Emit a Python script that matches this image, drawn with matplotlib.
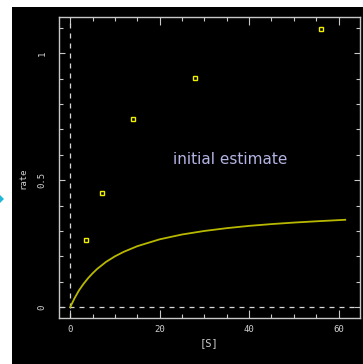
import numpy as np
import matplotlib
matplotlib.use("Agg")
import matplotlib.pyplot as plt
from matplotlib.patches import Rectangle, Polygon

# measured points ([S], rate)
s_obs = [3.5, 7, 14, 28, 56]
rate_obs = [0.264, 0.451, 0.742, 0.901, 1.095]

# initial estimate curve
s_curve = [0, 1, 2, 3, 4, 5, 6, 8, 10, 12, 15, 20, 25, 30, 35, 40, 45, 50, 55, 61.5]
rate_curve = [0, 0.036, 0.067, 0.092, 0.114, 0.133, 0.150, 0.178, 0.200, 0.218,
              0.240, 0.267, 0.286, 0.300, 0.311, 0.320, 0.327, 0.333, 0.338, 0.344]

xticks = [0, 20, 40, 60]
yticks = [0, 0.5, 1]
yticklabels = ["0", "0.5", "1"]

W, H = 363, 364
fig = plt.figure(figsize=(W / 100, H / 100), dpi=100, facecolor="white")
fig.patches.append(Rectangle((12 / W, 0), 1 - 12 / W, (H - 7) / H,
                             transform=fig.transFigure, facecolor="black",
                             edgecolor="none", zorder=-10))
# small cyan arrow at the left edge
fig.patches.append(Polygon([(0 / W, 1 - 195 / H), (4 / W, 1 - 199 / H), (0 / W, 1 - 203 / H)],
                           closed=True, transform=fig.transFigure,
                           facecolor="#20b8d8", edgecolor="none", zorder=-9))

ax = fig.add_axes([59 / W, (H - 318) / H, 301 / W, 301 / H])
ax.set_facecolor("black")
gray = "#c8c8c8"
for sp in ax.spines.values():
    sp.set_color(gray)
    sp.set_linewidth(1)

ax.set_xlim(-2.51, 64.8)
ax.set_ylim(-0.043, 1.143)

ax.axvline(0, color="#d8d8d8", lw=0.9, ls=(0, (4, 4)))
ax.axhline(0, color="#d8d8d8", lw=0.9, ls=(0, (4, 4)))

ax.plot(s_curve, rate_curve, color="#b8b800", lw=1.3)
ax.plot(s_obs, rate_obs, ls="none", marker="s", ms=3.2, mfc="none",
        mec="#f0f000", mew=1)

ax.text(35.7, 0.58, "initial estimate", color="#b4b4e4", fontsize=11,
        ha="center", va="center", family="DejaVu Sans")

ax.set_xticks(xticks)
ax.set_xticklabels([str(t) for t in xticks])
ax.set_xticks(np.arange(0, 65, 5), minor=True)
ax.set_yticks(yticks)
ax.set_yticklabels(yticklabels, rotation=90, va="center")
ax.set_yticks(np.arange(0, 1.15, 0.1), minor=True)

ax.tick_params(axis="both", which="both", direction="in", colors=gray,
               top=True, right=True, labelsize=6.5, width=0.8)
ax.tick_params(axis="x", which="major", length=6, pad=5)
ax.tick_params(axis="x", which="minor", length=3)
ax.tick_params(axis="y", which="major", length=4, pad=9)
ax.tick_params(axis="y", which="minor", length=3)
for lab in ax.get_xticklabels() + ax.get_yticklabels():
    lab.set_family("DejaVu Sans Mono")
    lab.set_color("#d0d0d0")

ax.set_xlabel("[S]", color="#d0d0d0", fontsize=7.5, family="DejaVu Sans Mono", labelpad=3)
ax.set_ylabel("rate", color="#d0d0d0", fontsize=6.5, family="DejaVu Sans Mono")
ax.yaxis.set_label_coords(-0.105, 0.465)

fig.savefig("out.png", dpi=100, facecolor="white")
